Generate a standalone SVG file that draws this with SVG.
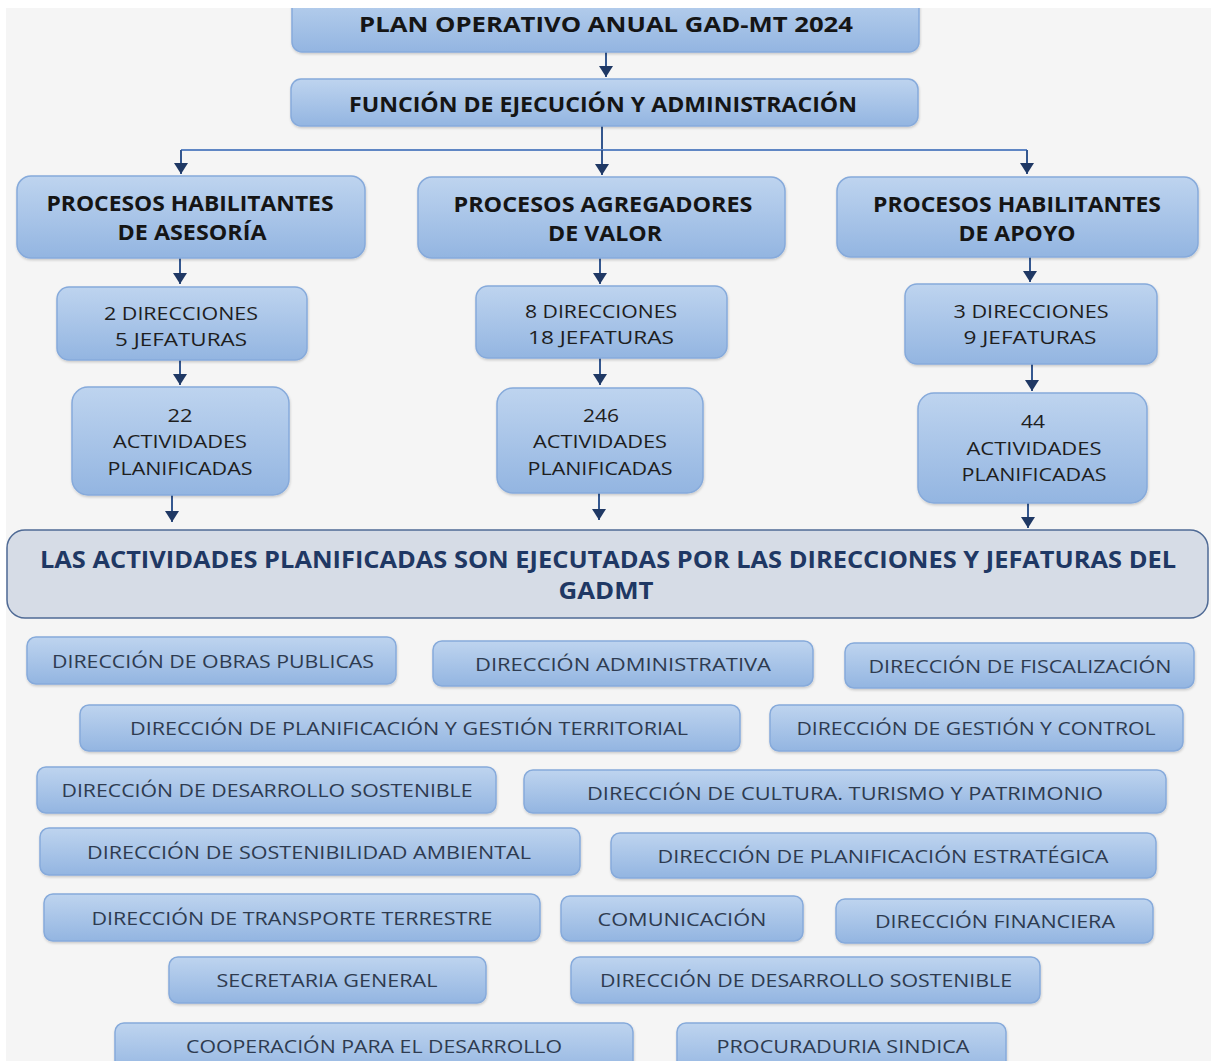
<svg xmlns="http://www.w3.org/2000/svg" width="1211" height="1061" viewBox="0 0 1211 1061">
<style>
  .box { fill: url(#gblue); stroke: #86aadb; stroke-width: 1.5; filter: url(#sh); }
  .big { fill: #d6dce6; stroke: #4f6a95; stroke-width: 1.5; }
  text { font-family: "Open Sans", "Liberation Sans", sans-serif; text-anchor: middle; }
  .t1 { font-size: 21px; font-weight: 700; fill: #151515; }
  .t3 { font-size: 21px; font-weight: 700; fill: #151515; }
  .t4 { font-size: 19px; font-weight: 400; fill: #1e1e1e; }
  .tb { font-size: 23px; font-weight: 700; fill: #1f3864; }
  .tl { font-size: 18.5px; font-weight: 400; fill: #2e3b50; }
  .con { fill: none; stroke: #34578f; stroke-width: 2; }
  .conl { fill: none; stroke: #5f86c4; stroke-width: 2; }
</style>
<defs>
  <linearGradient id="gblue" x1="0" y1="0" x2="0" y2="1">
    <stop offset="0" stop-color="#bed4ef"/>
    <stop offset="1" stop-color="#93b5e1"/>
  </linearGradient>
  <filter id="sh" x="-5%" y="-10%" width="110%" height="130%">
    <feDropShadow dx="0.5" dy="1.5" stdDeviation="1.2" flood-color="#000" flood-opacity="0.18"/>
  </filter>
  <marker id="ah" viewBox="0 0 11 14" refX="11" refY="7" markerWidth="11" markerHeight="14" markerUnits="userSpaceOnUse" orient="auto">
    <path d="M0,0 L11,7 L0,14 z" fill="#1f3864"/>
  </marker>
</defs>
<rect x="0" y="0" width="1211" height="1061" fill="#ffffff"/>
<rect x="6" y="8" width="1205" height="1053" fill="#f5f5f5"/>

<g id="connectors">
  <path class="con" d="M606,52 V77" marker-end="url(#ah)"/>
  <path class="con" d="M602,126 V150"/>
  <path class="conl" d="M181,150 H1027"/>
  <path class="con" d="M181,150 V174" marker-end="url(#ah)"/>
  <path class="con" d="M602,150 V175" marker-end="url(#ah)"/>
  <path class="con" d="M1027,150 V174" marker-end="url(#ah)"/>
  <path class="con" d="M180,258 V284" marker-end="url(#ah)"/>
  <path class="con" d="M180,360 V385" marker-end="url(#ah)"/>
  <path class="con" d="M172,495 V522" marker-end="url(#ah)"/>
  <path class="con" d="M600,258 V284" marker-end="url(#ah)"/>
  <path class="con" d="M600,358 V385" marker-end="url(#ah)"/>
  <path class="con" d="M599,493 V520" marker-end="url(#ah)"/>
  <path class="con" d="M1030,257 V282" marker-end="url(#ah)"/>
  <path class="con" d="M1032,364 V391" marker-end="url(#ah)"/>
  <path class="con" d="M1028,503 V528" marker-end="url(#ah)"/>
</g>

<g id="plan">
  <rect class="box" x="292" y="-12" width="627" height="64" rx="10"/>
  <text class="t1" x="606" y="32" textLength="494" lengthAdjust="spacingAndGlyphs">PLAN OPERATIVO ANUAL GAD-MT 2024</text>
</g>
<rect x="0" y="0" width="1211" height="8" fill="#ffffff"/>
<g id="funcion">
  <rect class="box" x="291" y="79" width="627" height="47" rx="10"/>
  <text class="t1" x="603" y="112" textLength="508" lengthAdjust="spacingAndGlyphs">FUNCIÓN DE EJECUCIÓN Y ADMINISTRACIÓN</text>
</g>

<g id="asesoria">
  <rect class="box" x="17" y="176" width="348" height="82" rx="14"/>
  <text class="t3" x="190" y="211" textLength="287" lengthAdjust="spacingAndGlyphs">PROCESOS HABILITANTES</text>
  <text class="t3" x="192" y="240" textLength="149" lengthAdjust="spacingAndGlyphs">DE ASESORÍA</text>
</g>
<g id="agregadores">
  <rect class="box" x="418" y="177" width="367" height="81" rx="14"/>
  <text class="t3" x="603" y="212" textLength="299" lengthAdjust="spacingAndGlyphs">PROCESOS AGREGADORES</text>
  <text class="t3" x="605" y="241" textLength="114" lengthAdjust="spacingAndGlyphs">DE VALOR</text>
</g>
<g id="apoyo">
  <rect class="box" x="837" y="177" width="361" height="80" rx="14"/>
  <text class="t3" x="1017" y="212" textLength="288" lengthAdjust="spacingAndGlyphs">PROCESOS HABILITANTES</text>
  <text class="t3" x="1017" y="241" textLength="117" lengthAdjust="spacingAndGlyphs">DE APOYO</text>
</g>

<g id="dir-asesoria">
  <rect class="box" x="57" y="287" width="250" height="73" rx="12"/>
  <text class="t4" x="181" y="320" textLength="154" lengthAdjust="spacingAndGlyphs">2 DIRECCIONES</text>
  <text class="t4" x="181" y="346" textLength="132" lengthAdjust="spacingAndGlyphs">5 JEFATURAS</text>
</g>
<g id="dir-agregadores">
  <rect class="box" x="476" y="286" width="251" height="72" rx="12"/>
  <text class="t4" x="601" y="318" textLength="152" lengthAdjust="spacingAndGlyphs">8 DIRECCIONES</text>
  <text class="t4" x="601" y="344" textLength="146" lengthAdjust="spacingAndGlyphs">18 JEFATURAS</text>
</g>
<g id="dir-apoyo">
  <rect class="box" x="905" y="284" width="252" height="80" rx="12"/>
  <text class="t4" x="1031" y="318" textLength="155" lengthAdjust="spacingAndGlyphs">3 DIRECCIONES</text>
  <text class="t4" x="1030" y="344" textLength="133" lengthAdjust="spacingAndGlyphs">9 JEFATURAS</text>
</g>

<g id="act-asesoria">
  <rect class="box" x="72" y="387" width="217" height="108" rx="16"/>
  <text class="t4" x="180" y="422" textLength="25" lengthAdjust="spacingAndGlyphs">22</text>
  <text class="t4" x="180" y="448" textLength="134" lengthAdjust="spacingAndGlyphs">ACTIVIDADES</text>
  <text class="t4" x="180" y="475" textLength="145" lengthAdjust="spacingAndGlyphs">PLANIFICADAS</text>
</g>
<g id="act-agregadores">
  <rect class="box" x="497" y="388" width="206" height="105" rx="16"/>
  <text class="t4" x="601" y="422" textLength="36" lengthAdjust="spacingAndGlyphs">246</text>
  <text class="t4" x="600" y="448" textLength="134" lengthAdjust="spacingAndGlyphs">ACTIVIDADES</text>
  <text class="t4" x="600" y="475" textLength="145" lengthAdjust="spacingAndGlyphs">PLANIFICADAS</text>
</g>
<g id="act-apoyo">
  <rect class="box" x="918" y="393" width="229" height="110" rx="16"/>
  <text class="t4" x="1033" y="428" textLength="24" lengthAdjust="spacingAndGlyphs">44</text>
  <text class="t4" x="1034" y="455" textLength="135" lengthAdjust="spacingAndGlyphs">ACTIVIDADES</text>
  <text class="t4" x="1034" y="481" textLength="145" lengthAdjust="spacingAndGlyphs">PLANIFICADAS</text>
</g>

<g id="ejecutadas">
  <rect class="big" x="7" y="530" width="1201" height="88" rx="18"/>
  <text class="tb" x="608" y="568" textLength="1136" lengthAdjust="spacingAndGlyphs">LAS ACTIVIDADES PLANIFICADAS SON EJECUTADAS POR LAS DIRECCIONES Y JEFATURAS DEL</text>
  <text class="tb" x="606" y="599" textLength="95" lengthAdjust="spacingAndGlyphs">GADMT</text>
</g>

<g id="d-obras"><rect class="box" x="27" y="637" width="369" height="47" rx="9"/><text class="tl" x="213" y="668" textLength="322" lengthAdjust="spacingAndGlyphs">DIRECCIÓN DE OBRAS PUBLICAS</text></g>
<g id="d-administrativa"><rect class="box" x="433" y="641" width="380" height="45" rx="9"/><text class="tl" x="623" y="671" textLength="296" lengthAdjust="spacingAndGlyphs">DIRECCIÓN ADMINISTRATIVA</text></g>
<g id="d-fiscalizacion"><rect class="box" x="845" y="643" width="349" height="45" rx="9"/><text class="tl" x="1020" y="673" textLength="303" lengthAdjust="spacingAndGlyphs">DIRECCIÓN DE FISCALIZACIÓN</text></g>
<g id="d-planificacion-gestion"><rect class="box" x="80" y="705" width="660" height="46" rx="9"/><text class="tl" x="409" y="735" textLength="558" lengthAdjust="spacingAndGlyphs">DIRECCIÓN DE PLANIFICACIÓN Y GESTIÓN TERRITORIAL</text></g>
<g id="d-gestion-control"><rect class="box" x="770" y="705" width="413" height="46" rx="9"/><text class="tl" x="976" y="735" textLength="359" lengthAdjust="spacingAndGlyphs">DIRECCIÓN DE GESTIÓN Y CONTROL</text></g>
<g id="d-desarrollo-1"><rect class="box" x="37" y="767" width="459" height="46" rx="9"/><text class="tl" x="267" y="797" textLength="411" lengthAdjust="spacingAndGlyphs">DIRECCIÓN DE DESARROLLO SOSTENIBLE</text></g>
<g id="d-cultura"><rect class="box" x="524" y="770" width="642" height="43" rx="9"/><text class="tl" x="845" y="800" textLength="516" lengthAdjust="spacingAndGlyphs">DIRECCIÓN DE CULTURA. TURISMO Y PATRIMONIO</text></g>
<g id="d-sostenibilidad"><rect class="box" x="40" y="828" width="540" height="47" rx="9"/><text class="tl" x="309" y="859" textLength="444" lengthAdjust="spacingAndGlyphs">DIRECCIÓN DE SOSTENIBILIDAD AMBIENTAL</text></g>
<g id="d-estrategica"><rect class="box" x="611" y="833" width="545" height="45" rx="9"/><text class="tl" x="883" y="863" textLength="451" lengthAdjust="spacingAndGlyphs">DIRECCIÓN DE PLANIFICACIÓN ESTRATÉGICA</text></g>
<g id="d-transporte"><rect class="box" x="44" y="894" width="496" height="47" rx="9"/><text class="tl" x="292" y="925" textLength="401" lengthAdjust="spacingAndGlyphs">DIRECCIÓN DE TRANSPORTE TERRESTRE</text></g>
<g id="d-comunicacion"><rect class="box" x="561" y="896" width="242" height="45" rx="9"/><text class="tl" x="682" y="926" textLength="169" lengthAdjust="spacingAndGlyphs">COMUNICACIÓN</text></g>
<g id="d-financiera"><rect class="box" x="836" y="899" width="317" height="44" rx="9"/><text class="tl" x="995" y="928" textLength="240" lengthAdjust="spacingAndGlyphs">DIRECCIÓN FINANCIERA</text></g>
<g id="d-secretaria"><rect class="box" x="169" y="957" width="317" height="46" rx="9"/><text class="tl" x="327" y="987" textLength="221" lengthAdjust="spacingAndGlyphs">SECRETARIA GENERAL</text></g>
<g id="d-desarrollo-2"><rect class="box" x="571" y="957" width="469" height="46" rx="9"/><text class="tl" x="806" y="987" textLength="412" lengthAdjust="spacingAndGlyphs">DIRECCIÓN DE DESARROLLO SOSTENIBLE</text></g>
<g id="d-cooperacion"><rect class="box" x="115" y="1023" width="518" height="52" rx="9"/><text class="tl" x="374" y="1053" textLength="376" lengthAdjust="spacingAndGlyphs">COOPERACIÓN PARA EL DESARROLLO</text></g>
<g id="d-procuraduria"><rect class="box" x="677" y="1023" width="329" height="52" rx="9"/><text class="tl" x="843" y="1053" textLength="253" lengthAdjust="spacingAndGlyphs">PROCURADURIA SINDICA</text></g>
</svg>
